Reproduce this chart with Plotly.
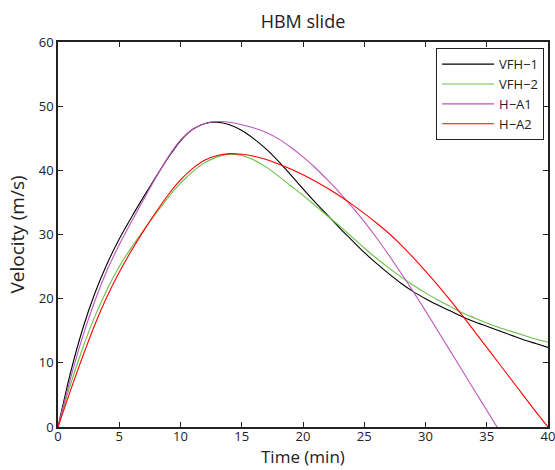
import plotly.graph_objects as go

time_min = list(range(0, 41))

vfh1 = [0, 8.3, 15.2, 20.8, 25.4, 29.3, 32.7, 35.9, 39.0, 42.0, 44.6, 46.4, 47.3, 47.5, 47.1,
        46.2, 44.9, 43.3, 41.4, 39.3, 37.1, 35.0, 33.0, 31.0, 29.1, 27.2, 25.5, 23.9, 22.4, 21.1,
        20.0, 19.0, 18.1, 17.2, 16.4, 15.7, 15.0, 14.3, 13.6, 13.0, 12.4]

vfh2 = [0, 6.5, 12.2, 17.2, 21.4, 25.0, 28.0, 30.7, 33.3, 35.8, 38.0, 39.8, 41.2, 42.1, 42.5,
        42.3, 41.6, 40.5, 39.1, 37.6, 36.1, 34.5, 32.9, 31.3, 29.6, 27.9, 26.3, 24.8, 23.4, 22.1,
        20.9, 19.8, 18.8, 17.8, 17.0, 16.2, 15.5, 14.9, 14.3, 13.7, 13.2]

ha1 = [0, 7.4, 14.0, 19.6, 24.4, 28.4, 32.0, 35.5, 38.9, 42.1, 44.7, 46.4, 47.3, 47.6, 47.5,
       47.1, 46.6, 45.9, 44.9, 43.6, 42.1, 40.4, 38.5, 36.5, 34.3, 32.0, 29.5, 26.8, 24.0, 21.1,
       18.1, 15.0, 11.9, 8.8, 5.7, 2.6, -0.5, None, None, None, None]

ha2 = [0, 5.6, 10.9, 15.9, 20.3, 24.1, 27.5, 30.6, 33.5, 36.2, 38.5, 40.3, 41.6, 42.3, 42.6,
       42.5, 42.2, 41.7, 41.0, 40.2, 39.3, 38.3, 37.2, 36.0, 34.7, 33.3, 31.8, 30.2, 28.4, 26.4,
       24.3, 22.1, 19.8, 17.4, 14.9, 12.4, 9.9, 7.4, 4.9, 2.4, 0.0]

x_title = "Time (min)"
y_title = "Velocity (m/s)"

series = [
    ("VFH\u22121", vfh1, "#000000"),
    ("VFH\u22122", vfh2, "#66c244"),
    ("H\u2212A1", ha1, "#bd55bd"),
    ("H\u2212A2", ha2, "#ff0000"),
]

fig = go.Figure()
for name, vals, col in series:
    fig.add_trace(go.Scatter(x=time_min, y=vals, name=name, mode="lines",
                             line=dict(color=col, width=1.1, shape="spline", smoothing=0.6),
                             connectgaps=False))

axis_common = dict(showgrid=False, zeroline=False, showline=True, linecolor="#222",
                   linewidth=1.5, mirror="ticks", ticks="inside", ticklen=5,
                   tickcolor="#222", tickfont=dict(size=13, color="#222"),
                   automargin=False, ticklabeloverflow="allow")

fig.update_layout(
    width=555, height=470,
    margin=dict(l=58, r=7, t=42, b=43),
    paper_bgcolor="white", plot_bgcolor="white",
    font=dict(family="Open Sans, sans-serif", color="#222"),
    title=dict(text="HBM slide", xref="paper", x=0.5, xanchor="center",
               yref="container", y=0.953, yanchor="middle",
               font=dict(size=18, color="#222")),
    xaxis=dict(range=[0, 40], dtick=5, ticklabelstandoff=-3, **axis_common),
    yaxis=dict(range=[0, 60], dtick=10, title=dict(text=y_title, standoff=9,
               font=dict(size=19)), **axis_common),
    legend=dict(x=0.992, xanchor="right", y=0.984, yanchor="top",
                bordercolor="#222", borderwidth=1, bgcolor="white",
                font=dict(size=13, color="#222"), tracegroupgap=0, itemwidth=52),
    showlegend=True,
    annotations=[dict(text=x_title, xref="paper", yref="paper", x=0.5, y=-0.108,
                      xanchor="center", yanchor="bottom", showarrow=False,
                      borderpad=0, font=dict(size=17, color="#222"))],
)

fig.write_html("out.html")
